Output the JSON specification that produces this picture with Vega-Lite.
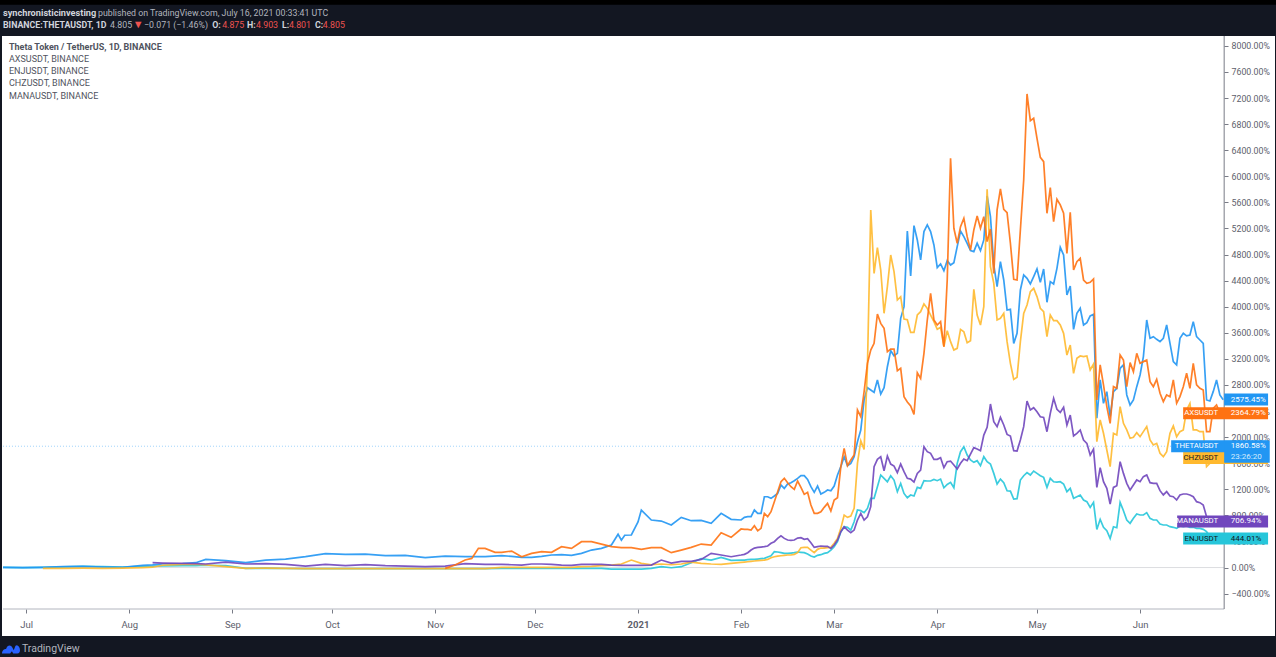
{
  "$schema": "https://vega.github.io/schema/vega-lite/v6.json",
  "width": 1273,
  "height": 600,
  "autosize": "none",
  "padding": {"left": 2, "top": 36, "right": 1, "bottom": 21},
  "background": "#131722",
  "view": {"fill": "white", "stroke": null},
  "config": {
    "text": {"font": "Roboto", "fontSize": 8.8, "align": "left", "baseline": "middle"},
    "axis": {"labelFont": "Roboto", "labelFontSize": 8.8, "labelColor": "#5d606b", "tickColor": "#787b86", "domain": false, "grid": false, "title": null}
  },
  "data": {"values": [{}]},
  "layer": [
    {"mark": {"type": "rule", "color": "#000000", "strokeWidth": 5}, "encoding": {"x": {"datum": {"year": 2020, "month": "jun", "date": 1}, "type": "temporal"}, "x2": {"datum": {"year": 2021, "month": "aug", "date": 1}}, "y": {"datum": 8670}}},
    {"mark": {"type": "rule", "color": "#dcdde0", "strokeWidth": 1}, "encoding": {"x": {"datum": {"year": 2020, "month": "jun", "date": 24}, "type": "temporal"}, "x2": {"datum": {"year": 2021, "month": "jun", "date": 26, "hours": 7}}, "y": {"datum": 0}}},
    {"mark": {"type": "rule", "color": "#9fd3fb", "strokeWidth": 1, "strokeDash": [1, 2]}, "encoding": {"x": {"datum": {"year": 2020, "month": "jun", "date": 24}, "type": "temporal"}, "x2": {"datum": {"year": 2021, "month": "jun", "date": 26, "hours": 7}}, "y": {"datum": 1860.58}}},
    {"mark": {"type": "rule", "color": "#b2b5be", "strokeWidth": 1}, "encoding": {"x": {"datum": {"year": 2020, "month": "jun", "date": 24}, "type": "temporal"}, "x2": {"datum": {"year": 2021, "month": "jun", "date": 26, "hours": 7}}, "y": {"datum": -636}}},
    {"mark": {"type": "rule", "color": "#787b86", "strokeWidth": 1}, "encoding": {"x": {"datum": {"year": 2021, "month": "jun", "date": 26, "hours": 7}, "type": "temporal"}, "y": {"datum": 8152}, "y2": {"datum": -636}}},
    {
      "data": {"values": [
        {"d":"2020-06-24","THETA":3,"ENJ":3},
        {"d":"2020-06-30","THETA":-2,"ENJ":0},
        {"d":"2020-07-06","THETA":3,"ENJ":3,"CHZ":-13},
        {"d":"2020-07-12","THETA":13,"ENJ":10,"CHZ":-13},
        {"d":"2020-07-18","THETA":18,"ENJ":20,"CHZ":-10},
        {"d":"2020-07-24","THETA":8,"ENJ":15,"CHZ":-13},
        {"d":"2020-07-30","THETA":3,"ENJ":8,"CHZ":-8},
        {"d":"2020-08-05","THETA":33,"ENJ":20,"CHZ":0},
        {"d":"2020-08-08","THETA":40,"ENJ":20,"CHZ":5,"MANA":74},
        {"d":"2020-08-11","THETA":54,"ENJ":25,"CHZ":35,"MANA":69},
        {"d":"2020-08-17","THETA":59,"ENJ":28,"CHZ":50,"MANA":64},
        {"d":"2020-08-21","THETA":74,"ENJ":30,"CHZ":50,"MANA":59},
        {"d":"2020-08-24","THETA":125,"ENJ":35,"CHZ":40,"MANA":54},
        {"d":"2020-08-30","THETA":105,"ENJ":28,"CHZ":15,"MANA":84},
        {"d":"2020-09-05","THETA":74,"ENJ":-13,"CHZ":-13,"MANA":54},
        {"d":"2020-09-11","THETA":115,"ENJ":-10,"CHZ":-8,"MANA":59},
        {"d":"2020-09-17","THETA":130,"ENJ":-15,"CHZ":-13,"MANA":49},
        {"d":"2020-09-23","THETA":166,"ENJ":-18,"CHZ":-18,"MANA":23},
        {"d":"2020-09-29","THETA":212,"ENJ":-18,"CHZ":-18,"MANA":49},
        {"d":"2020-10-05","THETA":202,"ENJ":-18,"CHZ":-18,"MANA":28},
        {"d":"2020-10-11","THETA":207,"ENJ":-18,"CHZ":-18,"MANA":44},
        {"d":"2020-10-17","THETA":182,"ENJ":-18,"CHZ":-18,"MANA":28},
        {"d":"2020-10-23","THETA":187,"ENJ":-18,"CHZ":-18,"MANA":23},
        {"d":"2020-10-29","THETA":151,"ENJ":-18,"CHZ":-18,"MANA":13},
        {"d":"2020-11-04","THETA":176,"AXS":-13,"ENJ":-18,"CHZ":-18,"MANA":23},
        {"d":"2020-11-07","AXS":38},
        {"d":"2020-11-10","THETA":166,"AXS":115,"ENJ":-18,"CHZ":-18,"MANA":59},
        {"d":"2020-11-12","AXS":140},
        {"d":"2020-11-14","AXS":294},
        {"d":"2020-11-16","THETA":166,"AXS":294,"ENJ":-18,"CHZ":-18,"MANA":49},
        {"d":"2020-11-19","AXS":232},
        {"d":"2020-11-21","THETA":182,"AXS":233,"ENJ":-13,"CHZ":2,"MANA":49},
        {"d":"2020-11-24","THETA":171,"AXS":253,"ENJ":-13,"CHZ":2,"MANA":43},
        {"d":"2020-11-27","THETA":156,"AXS":166,"ENJ":-13,"CHZ":2,"MANA":38},
        {"d":"2020-11-30","THETA":156,"AXS":217,"ENJ":-13,"CHZ":2,"MANA":54},
        {"d":"2020-12-03","THETA":171,"AXS":243,"ENJ":-13,"CHZ":2,"MANA":54},
        {"d":"2020-12-06","THETA":192,"AXS":233,"ENJ":-13,"CHZ":2,"MANA":49},
        {"d":"2020-12-09","THETA":197,"AXS":320,"ENJ":-13,"CHZ":2,"MANA":38},
        {"d":"2020-12-12","THETA":187,"AXS":294,"ENJ":-13,"CHZ":2,"MANA":33},
        {"d":"2020-12-15","THETA":217,"AXS":396,"ENJ":-13,"CHZ":13,"MANA":49},
        {"d":"2020-12-18","THETA":268,"AXS":396,"ENJ":-13,"CHZ":18,"MANA":49},
        {"d":"2020-12-21","THETA":294,"AXS":360,"ENJ":-13,"CHZ":28,"MANA":49},
        {"d":"2020-12-24","THETA":345,"AXS":320,"ENJ":-23,"CHZ":38,"MANA":38},
        {"d":"2020-12-26","THETA":510},
        {"d":"2020-12-27","THETA":420,"AXS":304,"ENJ":-23,"CHZ":54,"MANA":33},
        {"d":"2020-12-28","THETA":495},
        {"d":"2020-12-30","THETA":499,"AXS":304,"ENJ":-23,"CHZ":115,"MANA":33},
        {"d":"2021-01-01","THETA":700},
        {"d":"2021-01-02","THETA":882,"AXS":279,"ENJ":-23,"CHZ":64,"MANA":33},
        {"d":"2021-01-05","THETA":729,"AXS":304,"ENJ":-13,"CHZ":43,"MANA":38},
        {"d":"2021-01-08","THETA":713,"AXS":304,"ENJ":13,"CHZ":54,"MANA":115},
        {"d":"2021-01-11","THETA":652,"AXS":228,"ENJ":-3,"CHZ":43,"MANA":69},
        {"d":"2021-01-14","THETA":770,"AXS":268,"ENJ":13,"CHZ":54,"MANA":95},
        {"d":"2021-01-17","THETA":718,"AXS":309,"ENJ":74,"CHZ":84,"MANA":95},
        {"d":"2021-01-20","THETA":724,"AXS":360,"ENJ":136,"CHZ":64,"MANA":125},
        {"d":"2021-01-23","THETA":678,"AXS":345,"ENJ":115,"CHZ":54,"MANA":217},
        {"d":"2021-01-26","THETA":831,"AXS":534,"ENJ":156,"CHZ":49,"MANA":192},
        {"d":"2021-01-29","THETA":739,"AXS":463,"ENJ":110,"CHZ":64,"MANA":166},
        {"d":"2021-02-01","THETA":729,"AXS":591,"ENJ":115,"CHZ":79,"MANA":192},
        {"d":"2021-02-02","THETA":770,"AXS":585,"ENJ":115,"CHZ":84,"MANA":202},
        {"d":"2021-02-03","THETA":780,"AXS":585,"ENJ":120,"CHZ":89,"MANA":228},
        {"d":"2021-02-04","THETA":780,"AXS":575,"ENJ":125,"CHZ":95,"MANA":268},
        {"d":"2021-02-05","THETA":882,"AXS":642,"ENJ":125,"CHZ":100,"MANA":299},
        {"d":"2021-02-06","THETA":831,"AXS":565,"ENJ":130,"CHZ":105,"MANA":309},
        {"d":"2021-02-07","THETA":831,"AXS":601,"ENJ":136,"CHZ":110,"MANA":314},
        {"d":"2021-02-08","THETA":1086,"AXS":831,"ENJ":141,"CHZ":115,"MANA":320},
        {"d":"2021-02-09","THETA":1086,"AXS":780,"ENJ":161,"CHZ":125,"MANA":330},
        {"d":"2021-02-10","THETA":1061,"AXS":856,"ENJ":181,"CHZ":151,"MANA":371},
        {"d":"2021-02-11","THETA":1097,"AXS":1010,"ENJ":243,"CHZ":166,"MANA":396},
        {"d":"2021-02-12","THETA":1137,"AXS":1163,"ENJ":238,"CHZ":176,"MANA":447},
        {"d":"2021-02-13","THETA":1265,"AXS":1316,"ENJ":228,"CHZ":181,"MANA":488},
        {"d":"2021-02-14","THETA":1214,"AXS":1368,"ENJ":217,"CHZ":187,"MANA":447},
        {"d":"2021-02-15","THETA":1281,"AXS":1301,"ENJ":217,"CHZ":192,"MANA":422},
        {"d":"2021-02-16","THETA":1301,"AXS":1240,"ENJ":222,"CHZ":192,"MANA":417},
        {"d":"2021-02-17","THETA":1332,"AXS":1199,"ENJ":228,"CHZ":202,"MANA":422},
        {"d":"2021-02-18","THETA":1368,"AXS":1327,"ENJ":238,"CHZ":228,"MANA":452},
        {"d":"2021-02-19","THETA":1409,"AXS":1230,"ENJ":233,"CHZ":304,"MANA":458},
        {"d":"2021-02-20","THETA":1409,"AXS":1122,"ENJ":228,"CHZ":309,"MANA":432},
        {"d":"2021-02-21","THETA":1352,"AXS":1153,"ENJ":207,"CHZ":309,"MANA":442},
        {"d":"2021-02-22","THETA":1240,"AXS":959,"ENJ":176,"CHZ":268,"MANA":381},
        {"d":"2021-02-23","THETA":1153,"AXS":831,"ENJ":161,"CHZ":228,"MANA":309},
        {"d":"2021-02-24","THETA":1250,"AXS":831,"ENJ":187,"CHZ":279,"MANA":320},
        {"d":"2021-02-25","THETA":1127,"AXS":856,"ENJ":197,"CHZ":299,"MANA":330},
        {"d":"2021-02-26","THETA":1153,"AXS":923,"ENJ":217,"CHZ":299,"MANA":325},
        {"d":"2021-02-27","THETA":1189,"AXS":984,"ENJ":228,"CHZ":304,"MANA":325},
        {"d":"2021-02-28","THETA":1178,"AXS":867,"ENJ":268,"CHZ":309,"MANA":294},
        {"d":"2021-03-01","THETA":1250,"AXS":1035,"ENJ":319,"CHZ":371,"MANA":345},
        {"d":"2021-03-02","THETA":1419,"AXS":1071,"ENJ":396,"CHZ":447,"MANA":422},
        {"d":"2021-03-03","THETA":1547,"AXS":1547,"ENJ":549,"CHZ":601,"MANA":549},
        {"d":"2021-03-04","THETA":1700,"AXS":1828,"ENJ":626,"CHZ":805,"MANA":626},
        {"d":"2021-03-05","THETA":1562,"AXS":1562,"ENJ":616,"CHZ":769,"MANA":575},
        {"d":"2021-03-06","THETA":1598,"AXS":1649,"ENJ":575,"CHZ":790,"MANA":534},
        {"d":"2021-03-07","THETA":1700,"AXS":1726,"ENJ":703,"CHZ":908,"MANA":575},
        {"d":"2021-03-08","THETA":1930,"AXS":2416,"ENJ":882,"CHZ":1598,"MANA":728},
        {"d":"2021-03-09","THETA":2109,"AXS":2313,"ENJ":872,"CHZ":1945,"MANA":831},
        {"d":"2021-03-10","THETA":2569,"AXS":2697,"ENJ":841,"CHZ":1812,"MANA":728},
        {"d":"2021-03-11","THETA":2758,"AXS":3132,"ENJ":907,"CHZ":3080,"MANA":779},
        {"d":"2021-03-12","THETA":2723,"AXS":3336,"ENJ":1061,"CHZ":5484,"MANA":933},
        {"d":"2021-03-13","THETA":2687,"AXS":3438,"ENJ":1061,"CHZ":4512,"MANA":1546},
        {"d":"2021-03-14","THETA":2876,"AXS":3888,"ENJ":1240,"CHZ":4906,"MANA":1659},
        {"d":"2021-03-15","THETA":2661,"AXS":3745,"ENJ":1419,"CHZ":4563,"MANA":1700},
        {"d":"2021-03-16","THETA":2758,"AXS":3668,"ENJ":1368,"CHZ":3899,"MANA":1485},
        {"d":"2021-03-17","THETA":3080,"AXS":3311,"ENJ":1316,"CHZ":4308,"MANA":1710},
        {"d":"2021-03-18","THETA":3326,"AXS":3351,"ENJ":1408,"CHZ":4793,"MANA":1587},
        {"d":"2021-03-19","THETA":3249,"AXS":3351,"ENJ":1342,"CHZ":4538,"MANA":1557},
        {"d":"2021-03-20","THETA":3285,"AXS":3019,"ENJ":1163,"CHZ":4103,"MANA":1455},
        {"d":"2021-03-21","THETA":3822,"AXS":3055,"ENJ":1291,"CHZ":4154,"MANA":1587},
        {"d":"2021-03-22","THETA":4001,"AXS":2620,"ENJ":1137,"CHZ":3812,"MANA":1470},
        {"d":"2021-03-23","THETA":5160,"AXS":2540,"ENJ":1071,"CHZ":3800,"MANA":1368},
        {"d":"2021-03-24","THETA":4472,"AXS":2477,"ENJ":1112,"CHZ":3607,"MANA":1357},
        {"d":"2021-03-25","THETA":5244,"AXS":2349,"ENJ":1097,"CHZ":3607,"MANA":1311},
        {"d":"2021-03-26","THETA":5024,"AXS":2988,"ENJ":1229,"CHZ":3873,"MANA":1444},
        {"d":"2021-03-27","THETA":4717,"AXS":2901,"ENJ":1214,"CHZ":3924,"MANA":1495},
        {"d":"2021-03-28","THETA":5152,"AXS":3285,"ENJ":1332,"CHZ":4042,"MANA":1853},
        {"d":"2021-03-29","THETA":5254,"AXS":3796,"ENJ":1327,"CHZ":3975,"MANA":1777},
        {"d":"2021-03-30","THETA":5152,"AXS":4206,"ENJ":1327,"CHZ":3873,"MANA":1751},
        {"d":"2021-03-31","THETA":4947,"AXS":3797,"ENJ":1352,"CHZ":3771,"MANA":1659},
        {"d":"2021-04-01","THETA":4599,"AXS":3720,"ENJ":1332,"CHZ":3653,"MANA":1659},
        {"d":"2021-04-02","THETA":4656,"AXS":3771,"ENJ":1357,"CHZ":3684,"MANA":1685},
        {"d":"2021-04-03","THETA":4553,"AXS":3388,"ENJ":1224,"CHZ":3387,"MANA":1531},
        {"d":"2021-04-04","THETA":4707,"AXS":4410,"ENJ":1275,"CHZ":3633,"MANA":1623},
        {"d":"2021-04-05","THETA":4640,"AXS":6276,"ENJ":1306,"CHZ":3464,"MANA":1633},
        {"d":"2021-04-06","THETA":4676,"AXS":5203,"ENJ":1224,"CHZ":3336,"MANA":1572},
        {"d":"2021-04-07","THETA":4921,"AXS":4973,"ENJ":1598,"CHZ":3362,"MANA":1511},
        {"d":"2021-04-08","THETA":5162,"AXS":5228,"ENJ":1777,"CHZ":3653,"MANA":1598},
        {"d":"2021-04-09","THETA":5075,"AXS":5356,"ENJ":1853,"CHZ":3617,"MANA":1664},
        {"d":"2021-04-10","THETA":4973,"AXS":5075,"ENJ":1725,"CHZ":3449,"MANA":1639},
        {"d":"2021-04-11","THETA":4860,"AXS":4870,"ENJ":1649,"CHZ":3479,"MANA":1741},
        {"d":"2021-04-12","THETA":4845,"AXS":5177,"ENJ":1613,"CHZ":4267,"MANA":1838},
        {"d":"2021-04-13","THETA":4973,"AXS":5392,"ENJ":1639,"CHZ":3873,"MANA":1817},
        {"d":"2021-04-14","THETA":4860,"AXS":5203,"ENJ":1562,"CHZ":3720,"MANA":1792},
        {"d":"2021-04-15","THETA":5024,"AXS":5382,"ENJ":1700,"CHZ":4001,"MANA":2032},
        {"d":"2021-04-16","THETA":5699,"AXS":4998,"ENJ":1623,"CHZ":5801,"MANA":2150},
        {"d":"2021-04-17","THETA":5382,"AXS":5192,"ENJ":1587,"CHZ":4615,"MANA":2508},
        {"d":"2021-04-18","THETA":4640,"AXS":4512,"ENJ":1444,"CHZ":4359,"MANA":2237},
        {"d":"2021-04-19","THETA":4308,"AXS":5484,"ENJ":1281,"CHZ":3797,"MANA":2160},
        {"d":"2021-04-20","THETA":4691,"AXS":5806,"ENJ":1357,"CHZ":3822,"MANA":2303},
        {"d":"2021-04-21","THETA":4410,"AXS":5494,"ENJ":1301,"CHZ":3899,"MANA":2186},
        {"d":"2021-04-22","THETA":3950,"AXS":5443,"ENJ":1178,"CHZ":3464,"MANA":2042},
        {"d":"2021-04-23","THETA":3960,"AXS":4973,"ENJ":1173,"CHZ":3132,"MANA":2017},
        {"d":"2021-04-24","THETA":3438,"AXS":4420,"ENJ":1051,"CHZ":2886,"MANA":1792},
        {"d":"2021-04-25","THETA":3592,"AXS":4410,"ENJ":1056,"CHZ":2917,"MANA":1787},
        {"d":"2021-04-26","THETA":4257,"AXS":5177,"ENJ":1342,"CHZ":3464,"MANA":1955},
        {"d":"2021-04-27","THETA":4487,"AXS":5944,"ENJ":1408,"CHZ":3898,"MANA":2160},
        {"d":"2021-04-28","THETA":4436,"AXS":7263,"ENJ":1455,"CHZ":4027,"MANA":2554},
        {"d":"2021-04-29","THETA":4349,"AXS":6854,"ENJ":1419,"CHZ":4231,"MANA":2416},
        {"d":"2021-04-30","THETA":4461,"AXS":6890,"ENJ":1480,"CHZ":4282,"MANA":2451},
        {"d":"2021-05-01","THETA":4579,"AXS":6583,"ENJ":1444,"CHZ":4155,"MANA":2390},
        {"d":"2021-05-02","THETA":4374,"AXS":6292,"ENJ":1408,"CHZ":3976,"MANA":2313},
        {"d":"2021-05-03","THETA":4579,"AXS":6225,"ENJ":1383,"CHZ":3924,"MANA":2303},
        {"d":"2021-05-04","THETA":4068,"AXS":5433,"ENJ":1229,"CHZ":3541,"MANA":2083},
        {"d":"2021-05-05","THETA":4385,"AXS":5826,"ENJ":1368,"CHZ":3873,"MANA":2365},
        {"d":"2021-05-06","THETA":4349,"AXS":5305,"ENJ":1316,"CHZ":3786,"MANA":2595},
        {"d":"2021-05-07","THETA":4589,"AXS":5648,"ENJ":1311,"CHZ":3786,"MANA":2426},
        {"d":"2021-05-08","THETA":4911,"AXS":5561,"ENJ":1316,"CHZ":3720,"MANA":2380},
        {"d":"2021-05-09","THETA":4794,"AXS":5433,"ENJ":1281,"CHZ":3592,"MANA":2457},
        {"d":"2021-05-10","THETA":4180,"AXS":4819,"ENJ":1163,"CHZ":3259,"MANA":2186},
        {"d":"2021-05-11","THETA":4318,"AXS":5448,"ENJ":1214,"CHZ":3413,"MANA":2339},
        {"d":"2021-05-12","THETA":3653,"AXS":4564,"ENJ":1061,"CHZ":2978,"MANA":2017},
        {"d":"2021-05-13","THETA":3899,"AXS":4691,"ENJ":1086,"CHZ":3208,"MANA":2058},
        {"d":"2021-05-14","THETA":3976,"AXS":4743,"ENJ":1112,"CHZ":3244,"MANA":2109},
        {"d":"2021-05-15","THETA":3720,"AXS":4410,"ENJ":1035,"CHZ":3234,"MANA":1955},
        {"d":"2021-05-16","THETA":3756,"AXS":4359,"ENJ":1010,"CHZ":3244,"MANA":1904},
        {"d":"2021-05-17","THETA":3858,"AXS":4374,"ENJ":923,"CHZ":3029,"MANA":1725},
        {"d":"2021-05-18","THETA":3884,"AXS":4426,"ENJ":999,"CHZ":3121,"MANA":1817},
        {"d":"2021-05-19","THETA":2289,"AXS":2570,"ENJ":585,"CHZ":1931,"MANA":1229},
        {"d":"2021-05-20","THETA":2877,"AXS":3107,"ENJ":739,"CHZ":2263,"MANA":1531},
        {"d":"2021-05-21","THETA":2519,"AXS":2800,"ENJ":616,"CHZ":2059,"MANA":1316},
        {"d":"2021-05-22","THETA":2698,"AXS":2468,"ENJ":565,"CHZ":1803,"MANA":1214},
        {"d":"2021-05-23","THETA":2314,"AXS":2212,"ENJ":447,"CHZ":1547,"MANA":974},
        {"d":"2021-05-24","THETA":2698,"AXS":2774,"ENJ":626,"CHZ":2059,"MANA":1229},
        {"d":"2021-05-25","THETA":2749,"AXS":2749,"ENJ":611,"CHZ":2033,"MANA":1255},
        {"d":"2021-05-26","THETA":3056,"AXS":3260,"ENJ":999,"CHZ":2468,"MANA":1623},
        {"d":"2021-05-27","THETA":3107,"AXS":3183,"ENJ":872,"CHZ":2212,"MANA":1444},
        {"d":"2021-05-28","THETA":2647,"AXS":2774,"ENJ":729,"CHZ":2110,"MANA":1291},
        {"d":"2021-05-29","THETA":2493,"AXS":3143,"ENJ":678,"CHZ":1982,"MANA":1189},
        {"d":"2021-05-30","THETA":2570,"AXS":3004,"ENJ":755,"CHZ":1997,"MANA":1266},
        {"d":"2021-05-31","THETA":2774,"AXS":3286,"ENJ":821,"CHZ":2069,"MANA":1343},
        {"d":"2021-06-01","THETA":2953,"AXS":3132,"ENJ":806,"CHZ":2007,"MANA":1317},
        {"d":"2021-06-02","THETA":3235,"AXS":3158,"ENJ":806,"CHZ":2084,"MANA":1394},
        {"d":"2021-06-03","THETA":3797,"AXS":3183,"ENJ":842,"CHZ":2161,"MANA":1419},
        {"d":"2021-06-04","THETA":3516,"AXS":2851,"ENJ":755,"CHZ":1956,"MANA":1302},
        {"d":"2021-06-05","THETA":3541,"AXS":2774,"ENJ":729,"CHZ":1880,"MANA":1292},
        {"d":"2021-06-06","THETA":3500,"AXS":2887,"ENJ":729,"CHZ":1905,"MANA":1292},
        {"d":"2021-06-07","THETA":3465,"AXS":2672,"ENJ":668,"CHZ":1752,"MANA":1179},
        {"d":"2021-06-08","THETA":3516,"AXS":2544,"ENJ":652,"CHZ":1701,"MANA":1113},
        {"d":"2021-06-09","THETA":3720,"AXS":2647,"ENJ":652,"CHZ":1777,"MANA":1164},
        {"d":"2021-06-10","THETA":3439,"AXS":2621,"ENJ":627,"CHZ":2059,"MANA":1097},
        {"d":"2021-06-11","THETA":3158,"AXS":2877,"ENJ":617,"CHZ":2171,"MANA":1087},
        {"d":"2021-06-12","THETA":3107,"AXS":2519,"ENJ":601,"CHZ":2007,"MANA":1036},
        {"d":"2021-06-13","THETA":3516,"AXS":2621,"ENJ":637,"CHZ":2084,"MANA":1113},
        {"d":"2021-06-14","THETA":3592,"AXS":2774,"ENJ":627,"CHZ":2110,"MANA":1128},
        {"d":"2021-06-15","THETA":3552,"AXS":2979,"ENJ":637,"CHZ":2416,"MANA":1128},
        {"d":"2021-06-16","THETA":3567,"AXS":2749,"ENJ":617,"CHZ":2519,"MANA":1113},
        {"d":"2021-06-17","THETA":3771,"AXS":3132,"ENJ":617,"CHZ":2110,"MANA":1087},
        {"d":"2021-06-18","THETA":3541,"AXS":2800,"ENJ":600,"CHZ":2110,"MANA":1010},
        {"d":"2021-06-19","THETA":3490,"AXS":2749,"ENJ":600,"CHZ":2084,"MANA":995},
        {"d":"2021-06-20","THETA":3439,"AXS":2723,"ENJ":586,"CHZ":2084,"MANA":959},
        {"d":"2021-06-21","THETA":2570,"AXS":2084,"ENJ":550,"CHZ":1547,"MANA":780},
        {"d":"2021-06-22","THETA":2555,"AXS":2084,"ENJ":474,"CHZ":1598,"MANA":729},
        {"d":"2021-06-23","THETA":2698,"AXS":2442,"ENJ":500,"CHZ":1700,"MANA":755},
        {"d":"2021-06-24","THETA":2877,"AXS":2493,"ENJ":474,"CHZ":1680,"MANA":729},
        {"d":"2021-06-25","THETA":2647,"AXS":2365,"ENJ":449,"CHZ":1700,"MANA":704},
        {"d":"2021-06-26","THETA":2575,"AXS":2365,"ENJ":444,"CHZ":1680,"MANA":707}
      ]},
      "transform": [
        {"fold": ["CHZ", "MANA", "ENJ", "AXS", "THETA"], "as": ["series", "pct"]},
        {"filter": "isValid(datum.pct)"}
      ],
      "mark": {"type": "line", "strokeWidth": 1.7, "opacity": 0.9},
      "encoding": {
        "x": {
          "field": "d",
          "type": "temporal",
          "scale": {"domain": ["2020-06-23T17:00:00", "2021-07-11T14:00:00"], "nice": false},
          "axis": {
            "orient": "bottom",
            "offset": -27,
            "tickSize": 4,
            "tickCount": 40,
            "labelFontSize": 9.5,
            "labelOverlap": false,
            "labelPadding": 6,
            "values": [
              {"year": 2020, "month": "jul", "date": 1},
              {"year": 2020, "month": "aug", "date": 1},
              {"year": 2020, "month": "sep", "date": 1},
              {"year": 2020, "month": "oct", "date": 1},
              {"year": 2020, "month": "nov", "date": 1},
              {"year": 2020, "month": "dec", "date": 1},
              {"year": 2021, "month": "jan", "date": 1},
              {"year": 2021, "month": "feb", "date": 1},
              {"year": 2021, "month": "mar", "date": 1},
              {"year": 2021, "month": "apr", "date": 1},
              {"year": 2021, "month": "may", "date": 1},
              {"year": 2021, "month": "jun", "date": 1}
            ],
            "labelExpr": "month(datum.value) == 0 ? '2021' : timeFormat(datum.value, '%b')",
            "labelFontWeight": {"condition": {"test": "month(datum.value) == 0", "value": "bold"}, "value": "normal"}
          }
        },
        "y": {
          "field": "pct",
          "type": "quantitative",
          "scale": {"domain": [-1050, 8152], "nice": false, "zero": false},
          "axis": {
            "orient": "right",
            "offset": -51,
            "tickSize": 4,
            "tickCount": 40,
            "labelPadding": 3,
            "labelOverlap": false,
            "values": [-400, 0, 400, 800, 1200, 1600, 2000, 2400, 2800, 3200, 3600, 4000, 4400, 4800, 5200, 5600, 6000, 6400, 6800, 7200, 7600, 8000],
            "labelExpr": "format(datum.value, '.2f') + '%'"
          }
        },
        "detail": {"field": "series"},
        "color": {
          "field": "series",
          "type": "nominal",
          "scale": {"domain": ["THETA", "AXS", "ENJ", "CHZ", "MANA"], "range": ["#2196f3", "#ff7212", "#26c6da", "#ffb92e", "#7046bd"]},
          "legend": {
            "orient": "top-left",
            "offset": 7,
            "padding": 0,
            "title": "Theta Token / TetherUS, 1D, BINANCE",
            "titleFont": "Roboto",
            "titleFontSize": 9,
            "titleFontWeight": "bold",
            "titleColor": "#50535e",
            "titlePadding": 2,
            "titleLimit": 400,
            "values": ["AXS", "ENJ", "CHZ", "MANA"],
            "labelExpr": "datum.label + 'USDT, BINANCE'",
            "labelFont": "Roboto",
            "labelFontSize": 9,
            "labelColor": "#50535e",
            "labelOffset": -9,
            "labelLimit": 300,
            "symbolSize": 0.01,
            "symbolOpacity": 0,
            "symbolStrokeWidth": 0,
            "rowPadding": 2.4
          }
        }
      }
    },
    {
      "data": {"values": [
        {"series": "CHZ", "name": "CHZUSDT", "pct": 1680},
        {"series": "ENJ", "name": "ENJUSDT", "pct": 444.01},
        {"series": "MANA", "name": "MANAUSDT", "pct": 706.94},
        {"series": "THETA", "name": "THETAUSDT", "pct": 1860.58},
        {"series": "AXS", "name": "AXSUSDT", "pct": 2364.79},
        {"series": "THETA", "name": "", "pct": 2575.45}
      ]},
      "transform": [
        {"calculate": "time(datetime(2021, 5, 26, 7)) - max(0, length(datum.name) * 6 - 1) * 25985000", "as": "tagStart"}
      ],
      "layer": [
        {
          "mark": {"type": "rule", "strokeWidth": 12},
          "encoding": {
            "x": {"field": "tagStart", "type": "temporal"},
            "x2": {"datum": {"year": 2021, "month": "jul", "date": 9, "hours": 12}},
            "y": {"field": "pct", "type": "quantitative"},
            "color": {"field": "series", "type": "nominal"}
          }
        },
        {
          "mark": {"type": "text", "align": "right", "fontSize": 7.8},
          "encoding": {
            "text": {"field": "name"},
            "x": {"datum": {"year": 2021, "month": "jun", "date": 24, "hours": 12}, "type": "temporal"},
            "y": {"field": "pct", "type": "quantitative"},
            "color": {"condition": {"test": "datum.series == 'CHZ' || datum.series == 'ENJ'", "value": "#131722"}, "value": "#ffffff"}
          }
        }
      ]
    },
    {"mark": {"type": "rule", "color": "#2196f3", "strokeWidth": 22}, "encoding": {"x": {"datum": {"year": 2021, "month": "jun", "date": 26, "hours": 7}, "type": "temporal"}, "x2": {"datum": {"year": 2021, "month": "jul", "date": 10}}, "y": {"datum": 1775}}},
    {
      "data": {"values": [
        {"series": "ENJ", "pct": 444.01, "shown": "444.01%"},
        {"series": "MANA", "pct": 706.94, "shown": "706.94%"},
        {"series": "THETA", "pct": 1860.58, "shown": "1860.58%"},
        {"series": "AXS", "pct": 2364.79, "shown": "2364.79%"},
        {"series": "THETA", "pct": 2575.45, "shown": "2575.45%"}
      ]},
      "mark": {"type": "text", "fontSize": 8},
      "encoding": {
        "text": {"field": "shown"},
        "x": {"datum": {"year": 2021, "month": "jun", "date": 28, "hours": 7}, "type": "temporal"},
        "y": {"field": "pct", "type": "quantitative"},
        "color": {"condition": {"test": "datum.series == 'ENJ'", "value": "#131722"}, "value": "#ffffff"}
      }
    },
    {"mark": {"type": "text", "text": "23:26:20", "color": "#d6ecfd", "fontSize": 8}, "encoding": {"x": {"datum": {"year": 2021, "month": "jun", "date": 28, "hours": 7}, "type": "temporal"}, "y": {"datum": 1700}}},
    {"mark": {"type": "text", "text": "synchronisticinvesting", "color": "#d1d4dc", "fontWeight": "bold", "fontSize": 9.2}, "encoding": {"x": {"datum": {"year": 2020, "month": "jun", "date": 24}, "type": "temporal"}, "y": {"datum": 8498}}},
    {"mark": {"type": "text", "text": "published on TradingView.com, July 16, 2021 00:33:41 UTC", "color": "#b2b5be"}, "encoding": {"x": {"datum": {"year": 2020, "month": "jul", "date": 22, "hours": 14}, "type": "temporal"}, "y": {"datum": 8498}}},
    {"mark": {"type": "text", "text": "BINANCE:THETAUSDT, 1D", "color": "#d1d4dc", "fontWeight": "bold"}, "encoding": {"x": {"datum": {"year": 2020, "month": "jun", "date": 24}, "type": "temporal"}, "y": {"datum": 8322}}},
    {"mark": {"type": "text", "text": "4.805", "color": "#b2b5be"}, "encoding": {"x": {"datum": {"year": 2020, "month": "jul", "date": 26, "hours": 5}, "type": "temporal"}, "y": {"datum": 8322}}},
    {"mark": {"type": "text", "text": "▼", "color": "#ef5350", "fontSize": 11}, "encoding": {"x": {"datum": {"year": 2020, "month": "aug", "date": 2, "hours": 0}, "type": "temporal"}, "y": {"datum": 8322}}},
    {"mark": {"type": "text", "text": "−0.071 (−1.46%)", "color": "#b2b5be"}, "encoding": {"x": {"datum": {"year": 2020, "month": "aug", "date": 5, "hours": 10}, "type": "temporal"}, "y": {"datum": 8322}}},
    {"mark": {"type": "text", "text": "O:", "color": "#d1d4dc", "fontWeight": "bold"}, "encoding": {"x": {"datum": {"year": 2020, "month": "aug", "date": 25, "hours": 22}, "type": "temporal"}, "y": {"datum": 8322}}},
    {"mark": {"type": "text", "text": "4.875", "color": "#ef5350"}, "encoding": {"x": {"datum": {"year": 2020, "month": "aug", "date": 28, "hours": 22}, "type": "temporal"}, "y": {"datum": 8322}}},
    {"mark": {"type": "text", "text": "H:", "color": "#d1d4dc", "fontWeight": "bold"}, "encoding": {"x": {"datum": {"year": 2020, "month": "sep", "date": 5, "hours": 10}, "type": "temporal"}, "y": {"datum": 8322}}},
    {"mark": {"type": "text", "text": "4.903", "color": "#ef5350"}, "encoding": {"x": {"datum": {"year": 2020, "month": "sep", "date": 8, "hours": 2}, "type": "temporal"}, "y": {"datum": 8322}}},
    {"mark": {"type": "text", "text": "L:", "color": "#d1d4dc", "fontWeight": "bold"}, "encoding": {"x": {"datum": {"year": 2020, "month": "sep", "date": 15, "hours": 22}, "type": "temporal"}, "y": {"datum": 8322}}},
    {"mark": {"type": "text", "text": "4.801", "color": "#ef5350"}, "encoding": {"x": {"datum": {"year": 2020, "month": "sep", "date": 18}, "type": "temporal"}, "y": {"datum": 8322}}},
    {"mark": {"type": "text", "text": "C:", "color": "#d1d4dc", "fontWeight": "bold"}, "encoding": {"x": {"datum": {"year": 2020, "month": "sep", "date": 25, "hours": 20}, "type": "temporal"}, "y": {"datum": 8322}}},
    {"mark": {"type": "text", "text": "4.805", "color": "#ef5350"}, "encoding": {"x": {"datum": {"year": 2020, "month": "sep", "date": 28, "hours": 5}, "type": "temporal"}, "y": {"datum": 8322}}},
    {"mark": {"type": "point", "filled": true, "opacity": 1, "color": "#2962ff", "size": 324, "shape": "M-1 .55 C-1 .2 -.75 .05 -.55 .05 C-.4 -.45 0 -.45 .15 -.1 L.3 .2 L.5 -.3 C.7 -.5 1 -.2 1 .2 C1 .4 .9 .55 .7 .55 L.25 .55 L.1 .3 L-.1 .55 Z"}, "encoding": {"x": {"datum": {"year": 2020, "month": "jun", "date": 26, "hours": 10}, "type": "temporal"}, "y": {"datum": -1242}}},
    {"mark": {"type": "text", "text": "TradingView", "color": "#b2b5be", "fontSize": 10.5}, "encoding": {"x": {"datum": {"year": 2020, "month": "jun", "date": 29, "hours": 17}, "type": "temporal"}, "y": {"datum": -1250}}}
  ]
}
